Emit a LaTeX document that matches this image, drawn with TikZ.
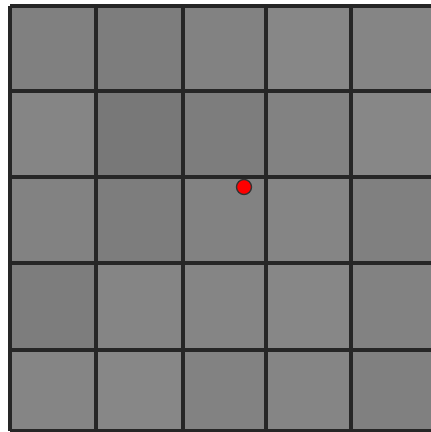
\documentclass[tikz,border=0pt]{standalone}
\usepackage{tikz}
\begin{document}
\begin{tikzpicture}[x=1pt,y=-1pt,
  gridline/.style={draw=black!85,line width=3.2pt},
  dot/.style={circle,fill=red,draw=black!80,line width=1.3pt,minimum size=15pt,inner sep=0pt}]
\useasboundingbox (0,0) rectangle (431,432);
\fill[white] (0,0) rectangle (431,432);
\def\xs{{10,96,183,266,351,437}}
\def\ys{{6,91,177,263,350,431}}
\def\shades{{50,49,51,53,52, 52,47,49,51,53, 51,49,51,52,50, 49,52,52,53,51, 52,53,51,52,50}}
\foreach \r in {0,...,4}{
  \foreach \c in {0,...,4}{
    \pgfmathsetmacro{\xa}{\xs[\c]}
    \pgfmathsetmacro{\xb}{\xs[\c+1]}
    \pgfmathsetmacro{\ya}{\ys[\r]}
    \pgfmathsetmacro{\yb}{\ys[\r+1]}
    \pgfmathsetmacro{\sh}{\shades[\r*5+\c]}
    \fill[white!\sh!black] (\xa,\ya) rectangle (\xb,\yb);
  }
}
\foreach \c in {0,...,5}{
  \pgfmathsetmacro{\xa}{\xs[\c]}
  \draw[gridline] (\xa,6) -- (\xa,431);
}
\foreach \r in {0,...,5}{
  \pgfmathsetmacro{\ya}{\ys[\r]}
  \draw[gridline] (10,\ya) -- (437,\ya);
}
\node[dot] (d) at (244,187) {};
\end{tikzpicture}
\end{document}
